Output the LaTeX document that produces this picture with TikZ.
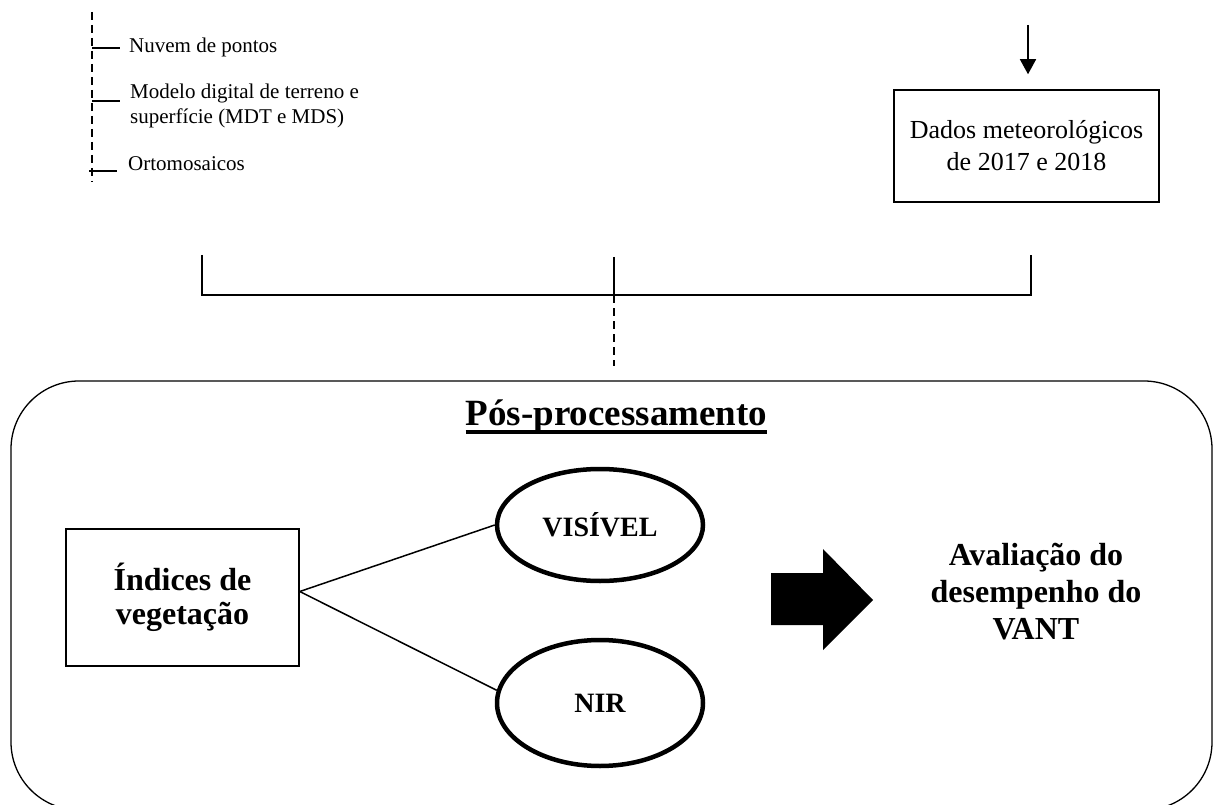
\documentclass[tikz,border=0pt]{standalone}
\usepackage{fontspec}
\setmainfont{Liberation Serif}
\usetikzlibrary{arrows.meta,shapes.geometric}
\begin{document}
\begin{tikzpicture}[x=1pt,y=-1pt,
  thinline/.style={line width=1.5pt},
  bracketline/.style={line width=2pt},
  dashline/.style={line width=1.6pt, dash pattern=on 8pt off 5pt},
  smalltxt/.style={font=\fontsize{21}{25}\selectfont, inner sep=0pt},
  boxnode/.style={draw, line width=1.5pt, inner sep=0pt, align=center},
  oval/.style={ellipse, draw, line width=4.5pt, inner sep=0pt, font=\bfseries\fontsize{28}{32}\selectfont},
  boldtxt/.style={font=\bfseries\fontsize{32}{36}\selectfont, align=center, inner sep=0pt}]
\useasboundingbox (0,0) rectangle (1213,805);

% top-left tree
\coordinate (ttop) at (92,12);
\coordinate (tbot) at (92,182);
\draw[dashline] (ttop) -- (tbot);
\coordinate (b1) at (92,48);
\coordinate (e1) at (120,48);
\coordinate (b2) at (92,101);
\coordinate (e2) at (120,101);
\coordinate (b3) at (89,171);
\coordinate (e3) at (117,171);
\draw[thinline] (b1) -- (e1);
\draw[thinline] (b2) -- (e2);
\draw[thinline] (b3) -- (e3);
\node[smalltxt, anchor=base west] (t1) at (129,53) {Nuvem de pontos};
\node[smalltxt, anchor=north west, align=left] (t2) at (130,83.5) {Modelo digital de terreno e\\superfície (MDT e MDS)};
\node[smalltxt, anchor=base west] (t3) at (128,171) {Ortomosaicos};

% meteorological data
\node[boxnode, minimum width=265pt, minimum height=112pt, font=\fontsize{26}{32}\selectfont] (dados) at (1026.5,146) {Dados meteorológicos\\de 2017 e 2018};
\coordinate (atop) at (1028,25);
\draw[thinline, -{Triangle[length=15pt,width=16pt]}, shorten >=15pt] (atop) -- (atop |- dados.north);

% bracket
\coordinate (bl) at (202,255);
\coordinate (blb) at (202,295);
\coordinate (br) at (1031,255);
\coordinate (brb) at (1031,295);
\coordinate (bm) at (614,257);
\coordinate (bmb) at (614,295);
\coordinate (bmd) at (614,366);
\draw[bracketline] (bl) -- (blb) -- (brb) -- (br);
\draw[bracketline] (bm) -- (bmb);
\draw[dashline] (bmb) -- (bmd);

% post-processing frame
\draw[line width=1.3pt, rounded corners=68pt] (11,381) rectangle (1212,810);
\node[font=\bfseries\fontsize{37}{40}\selectfont, inner sep=0pt, anchor=base] (title) at (616.5,425) {Pós-processamento};
\draw[line width=3.5pt] ([yshift=-7pt]title.base west) -- ([yshift=-7pt]title.base east);

\node[boxnode, minimum width=233pt, minimum height=137pt, font=\bfseries\fontsize{32}{34}\selectfont] (ind) at (182.5,597.5) {Índices de\\vegetação};
\node[oval, minimum width=206pt, minimum height=112pt] (vis) at (600,525) {VISÍVEL};
\node[oval, minimum width=206pt, minimum height=126pt] (nir) at (600,703) {NIR};
\draw[thinline] ([yshift=6pt]ind.east) -- (vis.west);
\draw[thinline] ([yshift=6pt]ind.east) -- (nir.173);

\fill (771,573) -- (823,573) -- (823,549) -- (873,600) -- (823,650) -- (823,625) -- (771,625) -- cycle;
\node[boldtxt, font=\bfseries\fontsize{32}{37}\selectfont] (aval) at (1036,591.5) {Avaliação do\\desempenho do\\VANT};
\end{tikzpicture}
\end{document}
